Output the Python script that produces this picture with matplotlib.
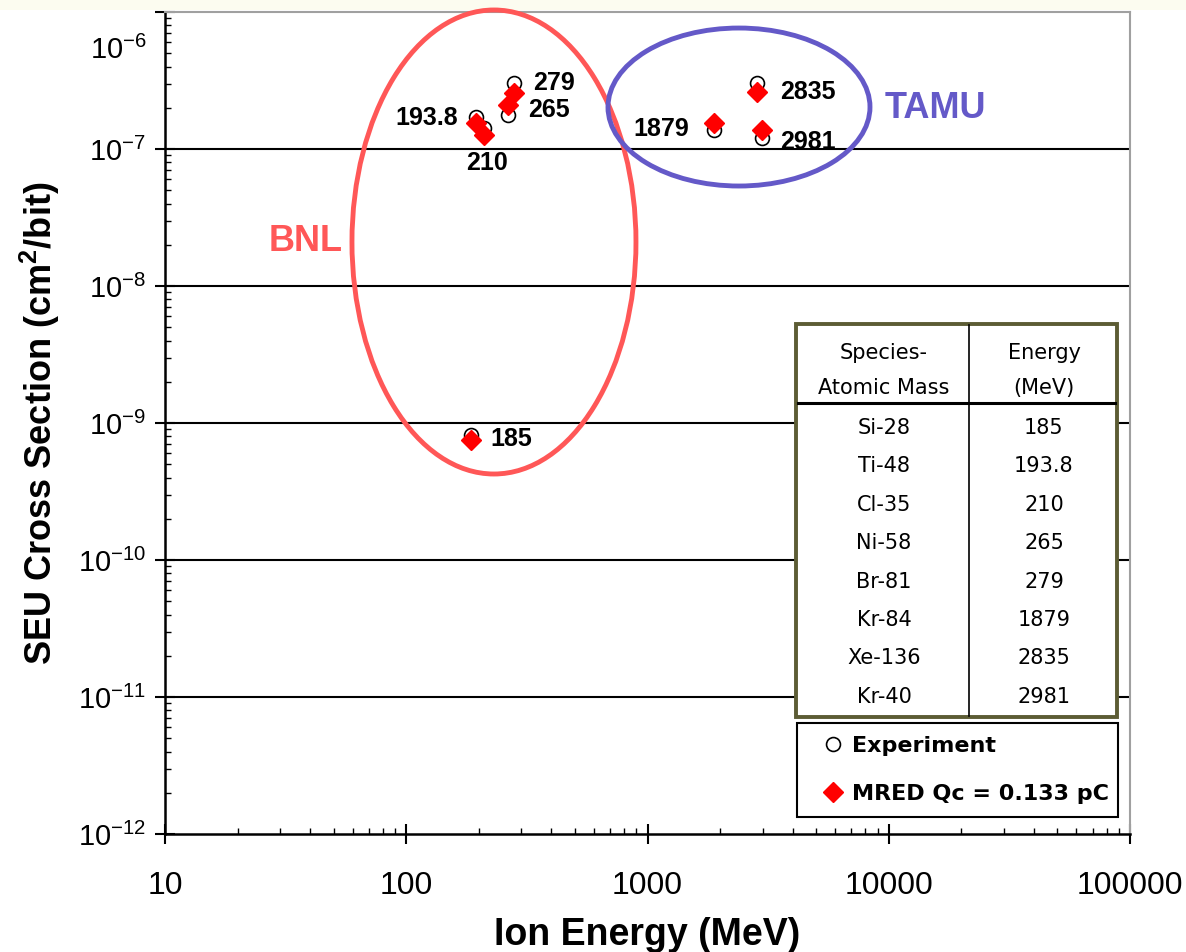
import numpy as np
import matplotlib
matplotlib.use('Agg')
import matplotlib.pyplot as plt
from matplotlib.patches import Ellipse, Rectangle
from matplotlib.lines import Line2D
from matplotlib.ticker import FixedLocator, LogLocator, FuncFormatter, NullFormatter

plt.rcParams['font.family'] = 'Liberation Sans'
plt.rcParams['mathtext.fontset'] = 'custom'
plt.rcParams['mathtext.rm'] = 'Liberation Sans'
plt.rcParams['mathtext.bf'] = 'Liberation Sans:bold'

# data
species = ['Si-28', 'Ti-48', 'Cl-35', 'Ni-58', 'Br-81', 'Kr-84', 'Xe-136', 'Kr-40']
energies = [185, 193.8, 210, 265, 279, 1879, 2835, 2981]
experiment = [8.2e-10, 1.71e-7, 1.42e-7, 1.77e-7, 3.03e-7, 1.38e-7, 3.03e-7, 1.20e-7]
mred = [7.5e-10, 1.55e-7, 1.26e-7, 2.09e-7, 2.56e-7, 1.55e-7, 2.61e-7, 1.38e-7]
energy_labels = ['185', '193.8', '210', '265', '279', '1879', '2835', '2981']
x_ticks = [10, 100, 1000, 10000, 100000]
y_ticks = [1e-12, 1e-11, 1e-10, 1e-9, 1e-8, 1e-7, 1e-6]

# label offsets in pixels (dx, dy, ha)
label_pos = [(20, -4, 'left'), (-18, -1, 'right'), (3, -35, 'center'), (20, 5, 'left'),
             (19, 0, 'left'), (-24, 1, 'right'), (23, -9, 'left'), (18, -4, 'left')]

W, H = 1186, 952


def fx(px):
    return px / W


def fy(py):
    return 1 - py / H


fig = plt.figure(figsize=(W / 100, H / 100), dpi=100)
fig.add_artist(Rectangle((0, fy(10)), 1, 10 / H, transform=fig.transFigure,
                         fc='#fcfcf0', ec='none', zorder=-1))

ax = fig.add_axes([fx(165), fy(834), (1130 - 165) / W, (834 - 12) / H])
ax.set_xscale('log')
ax.set_yscale('log')
ax.set_xlim(10, 100000)
ax.set_ylim(1e-12, 1e-6)

for v in y_ticks[1:-1]:
    ax.axhline(v, color='black', lw=1.5, zorder=1)

ax.plot(energies, experiment, 'o', ms=10, mfc='white', mec='black', mew=1.2,
        ls='none', label='Experiment', zorder=4)
ax.plot(energies, mred, 'D', ms=10, mfc='red', mec='red', ls='none',
        label='MRED Qc = 0.133 pC', zorder=5)

for e, yv, lab, (dx, dy, ha) in zip(energies, experiment, energy_labels, label_pos):
    ax.annotate(lab, xy=(e, yv), xytext=(dx, dy), textcoords='offset pixels',
                ha=ha, va='center', fontsize=18, fontweight='bold', zorder=6)

ax.add_patch(Ellipse((0.3409, 0.7202), 0.2943, 0.5645, transform=ax.transAxes,
                     fill=False, ec='#ff5757', lw=3.5, clip_on=False, zorder=3))
ax.add_patch(Ellipse((0.5948, 0.8844), 0.2715, 0.1922, transform=ax.transAxes,
                     fill=False, ec='#6459c8', lw=3.5, clip_on=False, zorder=3))
ax.text(0.146, 0.7214, 'BNL', transform=ax.transAxes, color='#ff5757',
        fontsize=26, fontweight='bold', ha='center', va='center')
ax.text(0.798, 0.883, 'TAMU', transform=ax.transAxes, color='#6459c8',
        fontsize=26, fontweight='bold', ha='center', va='center')

# axes styling
ax.xaxis.set_major_locator(FixedLocator(x_ticks))
ax.xaxis.set_minor_locator(LogLocator(base=10, subs=np.arange(2, 10)))
ax.xaxis.set_major_formatter(FuncFormatter(lambda v, p: '%d' % round(v)))
ax.xaxis.set_minor_formatter(NullFormatter())
ax.yaxis.set_major_locator(FixedLocator(y_ticks))
ax.yaxis.set_minor_locator(LogLocator(base=10, subs=np.arange(2, 10)))
ax.yaxis.set_major_formatter(FuncFormatter(
    lambda v, p: '' if v > 5e-7 else r'$\mathdefault{10^{%d}}$' % round(np.log10(v))))
ax.yaxis.set_minor_formatter(NullFormatter())

ax.tick_params(which='major', direction='inout', length=15, width=1.5, color='black')
ax.tick_params(axis='x', which='major', pad=19, labelsize=23)
ax.tick_params(axis='y', which='major', pad=6, labelsize=21)
ax.tick_params(which='minor', direction='in', length=4.5, width=1)

ax.annotate(r'$\mathdefault{10^{-6}}$', xy=(0, 1e-6), xycoords=('axes fraction', 'data'),
            xytext=(-18, -35), textcoords='offset pixels', ha='right',
            va='center_baseline', fontsize=21, annotation_clip=False)

for s in ['left', 'bottom']:
    ax.spines[s].set_linewidth(1.8)
    ax.spines[s].set_color('black')
for s in ['top', 'right']:
    ax.spines[s].set_linewidth(1.5)
    ax.spines[s].set_color('#a0a0a0')

ax.set_xlabel('Ion Energy (MeV)', fontsize=27, fontweight='bold', va='center')
ax.xaxis.set_label_coords(0.5, -0.1229)
ax.set_ylabel(r'SEU Cross Section (cm$^{\mathbf{2}}$/bit)', fontsize=26,
              fontweight='bold', va='center')
ax.yaxis.set_label_coords(-0.1295, 0.5)

# species table
fig.add_artist(Rectangle((fx(796), fy(717)), (1117 - 796) / W, (717 - 324) / H,
                         transform=fig.transFigure, fc='white', ec='#5c5c34',
                         lw=2.8, zorder=5))
fig.add_artist(Line2D([fx(969), fx(969)], [fy(325), fy(716)], transform=fig.transFigure,
                      color='black', lw=1.2, zorder=6))
fig.add_artist(Line2D([fx(798), fx(1115)], [fy(403), fy(403)], transform=fig.transFigure,
                      color='black', lw=2.2, zorder=6))
tfont = dict(family='DejaVu Sans', size=15, ha='center', va='center', zorder=7)
fig.text(fx(884), fy(353), 'Species-', **tfont)
fig.text(fx(884), fy(388), 'Atomic Mass', **tfont)
fig.text(fx(1044), fy(353), 'Energy', **tfont)
fig.text(fx(1044), fy(388), '(MeV)', **tfont)
for i, (sp, lab) in enumerate(zip(species, energy_labels)):
    yy = 428 + i * 38.4
    fig.text(fx(884), fy(yy), sp, **tfont)
    fig.text(fx(1044), fy(yy), lab, **tfont)

# legend
fig.add_artist(Rectangle((fx(797), fy(817)), (1118 - 797) / W, (817 - 723) / H,
                         transform=fig.transFigure, fc='white', ec='black',
                         lw=1.5, zorder=5))
handles, labels = ax.get_legend_handles_labels()
leg = fig.legend(handles, labels, loc='upper left', bbox_to_anchor=(fx(822), fy(736)),
                 bbox_transform=fig.transFigure, frameon=False, borderpad=0,
                 borderaxespad=0, handlelength=1.0, handletextpad=0.35,
                 labelspacing=1.25, numpoints=1,
                 prop={'family': 'DejaVu Sans', 'weight': 'bold', 'size': 16})
leg.set_zorder(8)

fig.savefig('out.png', dpi=100)
